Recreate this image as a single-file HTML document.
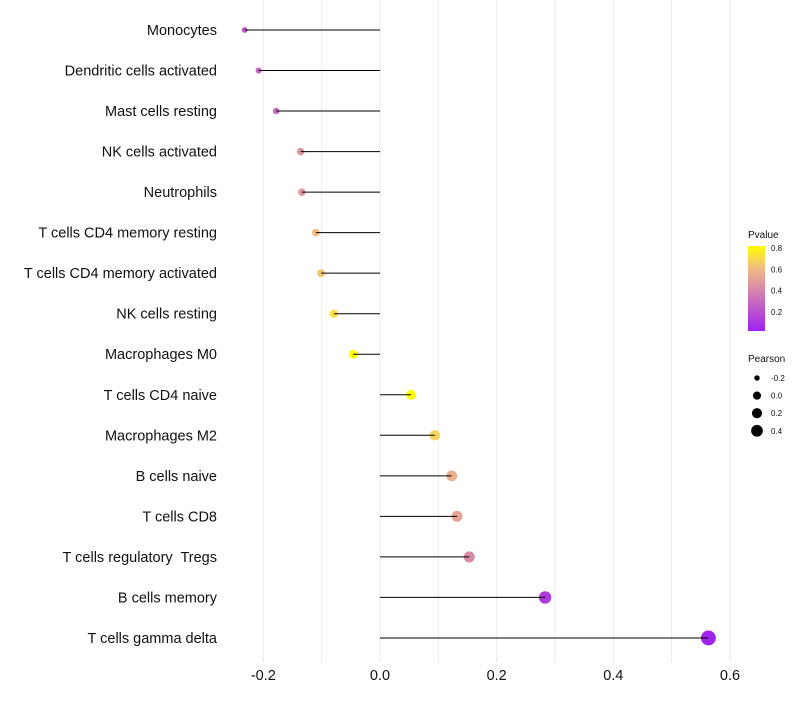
<!DOCTYPE html>
<html><head><meta charset="utf-8"><style>
body{margin:0;background:#fff;font-family:"Liberation Sans",sans-serif}
text{white-space:pre}
</style></head><body>
<svg id="c" width="800" height="700" xmlns="http://www.w3.org/2000/svg">
<defs><linearGradient id="pg" x1="0" y1="1" x2="0" y2="0">
<stop offset="0" stop-color="#A020F0"/><stop offset="0.5" stop-color="#D88AA8"/><stop offset="0.75" stop-color="#F2BE80"/><stop offset="1" stop-color="#FFFF00"/></linearGradient></defs>
</svg>
<script>
const categories=["Monocytes","Dendritic cells activated","Mast cells resting","NK cells activated","Neutrophils","T cells CD4 memory resting","T cells CD4 memory activated","NK cells resting","Macrophages M0","T cells CD4 naive","Macrophages M2","B cells naive","T cells CD8","T cells regulatory  Tregs","B cells memory","T cells gamma delta"];
const pearson=[-0.232,-0.208,-0.178,-0.136,-0.134,-0.110,-0.101,-0.079,-0.046,0.053,0.094,0.123,0.132,0.153,0.283,0.563];
const pvalues=[0.22,0.28,0.32,0.46,0.46,0.62,0.64,0.72,0.82,0.82,0.68,0.56,0.52,0.42,0.12,0.03];
const xTicks=[-0.2,0,0.2,0.4,0.6];
const xTickLabels=["-0.2","0.0","0.2","0.4","0.6"];
const pLegend=[0.2,0.4,0.6,0.8];
const sizeLegend=[-0.2,0,0.2,0.4];
const NS="http://www.w3.org/2000/svg",svg=document.getElementById('c');
const X=v=>380+v*583.3, Y=i=>30+i*40.53, R=p=>Math.sqrt(Math.max(1,16.5+45*p));
const PC=v=>(v-0.02)/0.8;
function col(p){const t=Math.max(0,Math.min(1,PC(p)));const s=[[0,[160,32,240]],[0.5,[216,138,168]],[0.75,[242,190,128]],[1,[255,255,0]]];
for(let k=1;k<s.length;k++){if(t<=s[k][0]){const a=s[k-1],b=s[k],f=(t-a[0])/(b[0]-a[0]);return 'rgb('+a[1].map((c,j)=>Math.round(c+(b[1][j]-c)*f)).join(',')+')';}}return 'rgb(255,255,0)';}
function el(t,a,txt){const e=document.createElementNS(NS,t);for(const k in a)e.setAttribute(k,a[k]);if(txt!=null)e.textContent=txt;svg.appendChild(e);return e;}
for(let v=-0.2;v<=0.601;v+=0.1){const g=el('line',{x1:X(v),x2:X(v),y1:0,y2:662,stroke:'#ebebeb','stroke-width':1});

}
xTicks.forEach((v,i)=>{const t=el('text',{x:X(v),y:680,'text-anchor':'middle','font-size':14.5,fill:'#111'},xTickLabels[i]);

});
categories.forEach((c,i)=>{const y=Y(i);
const l=el('text',{x:217,y:y+5,'text-anchor':'end','font-size':14.5,fill:'#111'},c);


const d=el('circle',{cx:X(pearson[i]),cy:y,r:R(pearson[i])*1.15,fill:col(pvalues[i])});


const s=el('line',{x1:X(0),x2:X(pearson[i]),y1:y,y2:y,stroke:'#000','stroke-width':1});

});
const lt=el('text',{x:748,y:238,'font-size':10,fill:'#111'},'Pvalue');


const bar=el('rect',{x:748,y:246,width:17,height:85,fill:'url(#pg)'});


pLegend.forEach(p=>{const y=331-PC(p)*85;
const t=el('text',{x:771,y:y+3,'font-size':8,fill:'#111'},p.toFixed(1));

});
const st=el('text',{x:748,y:362,'font-size':10,fill:'#111'},'Pearson');


sizeLegend.forEach((p,i)=>{const y=378+i*17.6;
const c=el('circle',{cx:757,cy:y,r:R(p),fill:'#000'});


const t=el('text',{x:771,y:y+3,'font-size':8,fill:'#111'},p.toFixed(1));

});
</script>
</body></html>
